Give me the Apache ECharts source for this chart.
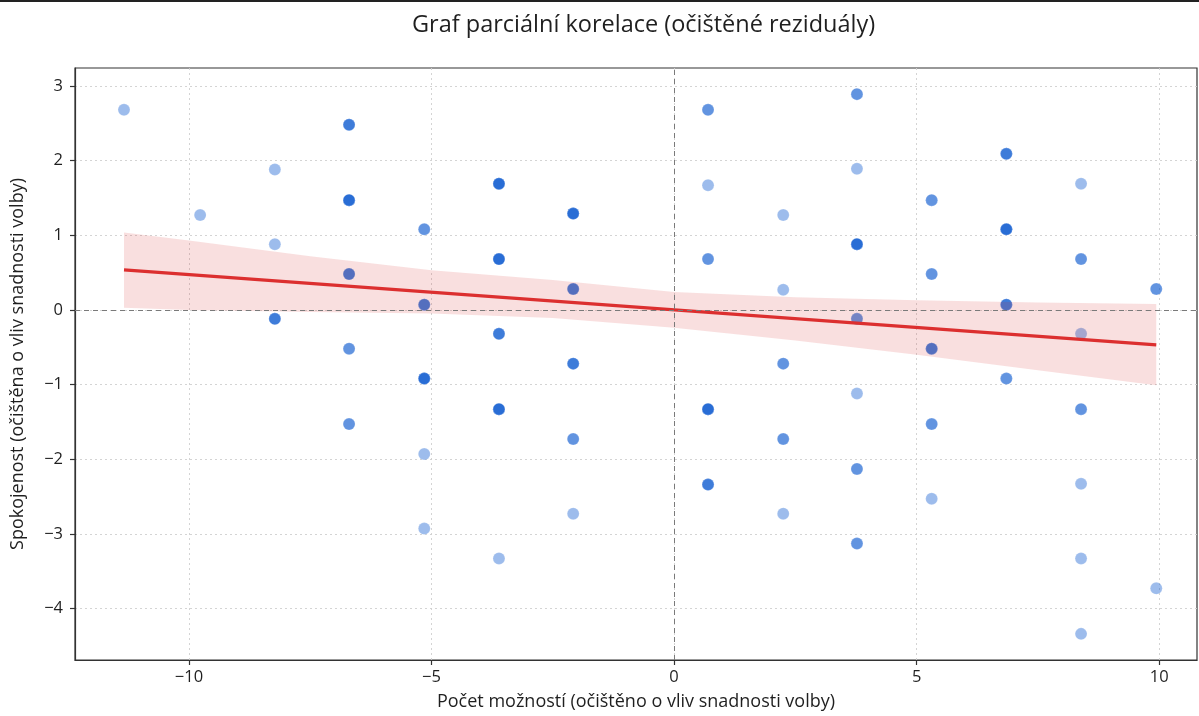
<!DOCTYPE html>
<html>
<head>
<meta charset="utf-8">
<script src="https://cdn.jsdelivr.net/npm/echarts@6/dist/echarts.min.js"></script>
<style>
  html, body { margin: 0; padding: 0; background: #fff; }
  #chart { width: 1199px; height: 716px; }
</style>
</head>
<body>
<div id="chart"></div>
<script>
// ---- data ----
const titleText = 'Graf parciální korelace (očištěné reziduály)';
const xAxisName = 'Počet možností (očištěno o vliv snadnosti volby)';
const yAxisName = 'Spokojenost (očištěna o vliv snadnosti volby)';

const xTicks = [-10, -5, 0, 5, 10];
const yTicks = [-4, -3, -2, -1, 0, 1, 2, 3];

// scatter points: x, y and how many observations overlap at that spot
const pointX = [
  -11.34,
  -9.77,
  -8.23, -8.23, -8.23,
  -6.70, -6.70, -6.70, -6.70, -6.70,
  -5.15, -5.15, -5.15, -5.15, -5.15,
  -3.61, -3.61, -3.61, -3.61, -3.61,
  -2.08, -2.08, -2.08, -2.08, -2.08,
  0.70, 0.70, 0.70, 0.70, 0.70,
  2.25, 2.25, 2.25, 2.25, 2.25,
  3.77, 3.77, 3.77, 3.77, 3.77, 3.77, 3.77,
  5.31, 5.31, 5.31, 5.31, 5.31,
  6.85, 6.85, 6.85, 6.85,
  8.39, 8.39, 8.39, 8.39, 8.39, 8.39, 8.39,
  9.94, 9.94
];
const pointY = [
  2.68,
  1.27,
  1.88, 0.88, -0.12,
  2.48, 1.47, 0.48, -0.52, -1.53,
  1.08, 0.07, -0.92, -1.93, -2.93,
  1.69, 0.68, -0.32, -1.33, -3.33,
  1.29, 0.28, -0.72, -1.73, -2.73,
  2.68, 1.67, 0.68, -1.33, -2.34,
  1.27, 0.27, -0.72, -1.73, -2.73,
  2.89, 1.89, 0.88, -0.12, -1.12, -2.13, -3.13,
  1.47, 0.48, -0.52, -1.53, -2.53,
  2.09, 1.08, 0.07, -0.92,
  1.69, 0.68, -0.32, -1.33, -2.33, -3.33, -4.34,
  0.28, -3.73
];
const pointCount = [
  1,
  1,
  1, 1, 3,
  3, 4, 3, 2, 2,
  2, 3, 4, 1, 1,
  4, 4, 3, 4, 1,
  4, 3, 3, 2, 1,
  2, 1, 2, 4, 3,
  1, 1, 2, 2, 1,
  2, 1, 4, 2, 1, 2, 2,
  2, 2, 3, 2, 1,
  3, 4, 3, 2,
  1, 2, 1, 2, 1, 1, 1,
  2, 1
];

// regression line end points
const lineX = [-11.34, 9.94];
const lineY = [0.535, -0.47];

// confidence band edges
const bandX =     [-11.34, -10,  -7.5,  -5,   -2.5,  0,     2.5,   5,     7.5,   9.94];
const bandUpper = [1.035,  0.93, 0.72,  0.53,  0.40, 0.24,  0.17,  0.13,  0.10,  0.08];
const bandLower = [0.03,   0.00, -0.03, -0.05, -0.11, -0.24, -0.41, -0.60, -0.81, -1.01];

// ---- build series data ----
const scatterData = [];
for (let i = 0; i < pointX.length; i++) {
  for (let k = 0; k < pointCount[i]; k++) scatterData.push([pointX[i], pointY[i]]);
}
const lineData = lineX.map((x, i) => [x, lineY[i]]);

const FONT = '"Open Sans", "DejaVu Sans", sans-serif';
const minus = v => String(v).replace('-', '\u2212');

const chart = echarts.init(document.getElementById('chart'), null, { renderer: 'canvas' });

chart.setOption({
  animation: false,
  backgroundColor: '#ffffff',
  textStyle: { fontFamily: FONT },
  title: {
    text: titleText,
    left: 407,
    top: 8,
    textStyle: { fontFamily: FONT, fontSize: 23.5, fontWeight: 'normal', color: '#1f1f1f' }
  },
  graphic: [
    { type: 'rect', left: 0, top: 0, shape: { width: 1199, height: 2 }, style: { fill: '#222' }, z: 100 }
  ],
  grid: {
    left: 75, right: 2, top: 68, bottom: 54, containLabel: false,
    show: true, borderColor: '#333', borderWidth: 1.2, backgroundColor: 'transparent'
  },
  xAxis: {
    type: 'value',
    min: -12.35,
    max: 10.78,
    name: xAxisName,
    nameLocation: 'middle',
    nameGap: 33,
    nameTextStyle: { fontFamily: FONT, fontSize: 18, color: '#1f1f1f' },
    axisLine: { show: true, onZero: false, lineStyle: { color: '#333', width: 1.2 } },
    axisTick: { show: true, customValues: xTicks, length: 5, lineStyle: { color: '#333', width: 1.2 } },
    axisLabel: { customValues: xTicks, formatter: minus, fontFamily: FONT, fontSize: 16.5, color: '#1f1f1f', margin: 9 },
    splitLine: { show: true, lineStyle: { color: '#cfcfcf', type: [2, 3], width: 0.9 } }
  },
  yAxis: {
    type: 'value',
    min: -4.69,
    max: 3.24,
    name: yAxisName,
    nameLocation: 'middle',
    nameGap: 48,
    nameTextStyle: { fontFamily: FONT, fontSize: 18, color: '#1f1f1f' },
    axisLine: { show: true, onZero: false, lineStyle: { color: '#333', width: 1.2 } },
    axisTick: { show: true, customValues: yTicks, length: 5, lineStyle: { color: '#333', width: 1.2 } },
    axisLabel: { customValues: yTicks, formatter: minus, fontFamily: FONT, fontSize: 16.5, color: '#1f1f1f', margin: 12 },
    splitLine: { show: true, lineStyle: { color: '#cfcfcf', type: [2, 3], width: 0.9 } }
  },
  series: [
    {
      type: 'line',
      data: [],
      markLine: {
        silent: true,
        symbol: 'none',
        label: { show: false },
        lineStyle: { color: '#7a7a7a', type: [5, 4], width: 1 },
        data: [{ xAxis: 0 }, { yAxis: 0 }]
      },
      z: 1
    },
    {
      type: 'scatter',
      data: scatterData,
      symbol: 'circle',
      symbolSize: 12,
      itemStyle: { color: 'rgba(11, 87, 208, 0.5)', borderColor: 'rgba(255,255,255,0.35)', borderWidth: 0.6 },
      z: 2
    },
    {
      type: 'custom',
      data: [0],
      z: 3,
      silent: true,
      renderItem: function (params, api) {
        const pts = [];
        for (let i = 0; i < bandX.length; i++) pts.push(api.coord([bandX[i], bandUpper[i]]));
        for (let i = bandX.length - 1; i >= 0; i--) pts.push(api.coord([bandX[i], bandLower[i]]));
        return {
          type: 'polygon',
          shape: { points: pts },
          style: { fill: 'rgba(214, 39, 40, 0.15)', stroke: 'none' }
        };
      }
    },
    {
      type: 'line',
      data: lineData,
      symbol: 'none',
      lineStyle: { color: '#dc2f2f', width: 3.2 },
      z: 4
    }
  ]
});
</script>
</body>
</html>
